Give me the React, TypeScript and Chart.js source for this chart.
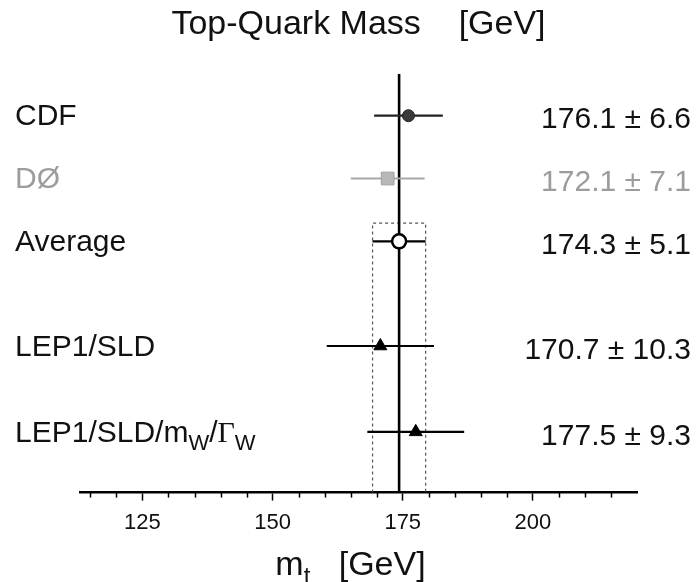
import React, { useEffect, useRef } from 'react';
import { Chart, registerables } from 'chart.js';

Chart.register(...registerables);

// ---------- data ----------
const labels = ['CDF', 'DØ', 'Average', 'LEP1/SLD', 'LEP1/SLD/m_W/Γ_W'];
const values = [176.1, 172.1, 174.3, 170.7, 177.5];
const errors = [6.6, 7.1, 5.1, 10.3, 9.3];
const majorTicks = [125, 150, 175, 200];
const minorTicks = [115, 120, 130, 135, 140, 145, 155, 160, 165, 170, 180, 185, 190, 195, 205, 210, 215];
const chartTitle = 'Top-Quark Mass    [GeV]';
const axisTitle = 'm_t   [GeV]';

// ---------- layout / style ----------
const rows = [0.6, 1.5, 2.4, 3.9, 5.13];
const bandTop = 2.14;
const AVG = 2;
const barColors = ['#222', '#a8a8a8', '#000', '#000', '#000'];
const textColors = ['#111', '#9c9c9c', '#111', '#111', '#111'];
const pointStyles = ['circle', 'rect', 'circle', 'triangle', 'triangle'];
const pointRadii = [6, 9, 7, 7.5, 7.5];
const pointFills = ['#3a3a3a', '#b8b8b8', '#ffffff', '#000', '#000'];
const pointBorders = ['#222', '#a0a0a0', '#000', '#000', '#000'];
const pointBorderWidths = [1, 1, 2.5, 1, 1];
const FONT = '"Liberation Sans", Arial, Helvetica, sans-serif';
const SERIF = '"Liberation Serif", "Times New Roman", serif';

type Seg = { t: string; sub: boolean };
function parseRich(s: string): Seg[] {
  const out: Seg[] = [];
  let buf = '';
  for (let i = 0; i < s.length; i++) {
    if (s[i] === '_' && i + 1 < s.length) {
      if (buf) out.push({ t: buf, sub: false });
      buf = '';
      out.push({ t: s[i + 1], sub: true });
      i++;
    } else buf += s[i];
  }
  if (buf) out.push({ t: buf, sub: false });
  return out;
}

function drawRich(ctx: CanvasRenderingContext2D, text: string, x: number, yMid: number, size: number, align: 'left' | 'right' | 'center', color: string) {
  const segs = parseRich(text);
  const subSize = Math.round(size * 0.72);
  const pieces: { t: string; font: string; dy: number }[] = [];
  segs.forEach((sg) => {
    const sz = sg.sub ? subSize : size;
    const dy = sg.sub ? size * 0.27 : 0;
    let cur = '';
    for (const ch of sg.t) {
      if (ch === 'Γ') {
        if (cur) pieces.push({ t: cur, font: `${sz}px ${FONT}`, dy });
        cur = '';
        pieces.push({ t: ch, font: `${sz}px ${SERIF}`, dy });
      } else cur += ch;
    }
    if (cur) pieces.push({ t: cur, font: `${sz}px ${FONT}`, dy });
  });
  let total = 0;
  const widths = pieces.map((p) => {
    ctx.font = p.font;
    const w = ctx.measureText(p.t).width;
    total += w;
    return w;
  });
  let cx = align === 'left' ? x : align === 'right' ? x - total : x - total / 2;
  const base = yMid + size * 0.358;
  ctx.fillStyle = color;
  ctx.textBaseline = 'alphabetic';
  ctx.textAlign = 'left';
  pieces.forEach((p, i) => {
    ctx.font = p.font;
    ctx.fillText(p.t, cx, base + p.dy);
    cx += widths[i];
  });
}

const decorPlugin = {
  id: 'decor',
  afterDraw(chart: any) {
    const ctx: CanvasRenderingContext2D = chart.ctx;
    const xs = chart.scales.x;
    const ys = chart.scales.y;
    const area = chart.chartArea;
    ctx.save();
    ctx.strokeStyle = '#000';
    ctx.lineWidth = 1.5;
    minorTicks.forEach((v) => {
      const px = Math.round(xs.getPixelForValue(v)) + 0.5;
      ctx.beginPath();
      ctx.moveTo(px, area.bottom);
      ctx.lineTo(px, area.bottom + 5);
      ctx.stroke();
    });
    labels.forEach((lab, i) => {
      const py = ys.getPixelForValue(rows[i]);
      drawRich(ctx, lab, 15, py - 1, 30, 'left', textColors[i]);
      const txt = `${values[i].toFixed(1)} ± ${errors[i].toFixed(1)}`;
      drawRich(ctx, txt, 691, py + 2, 30, 'right', textColors[i]);
    });
    drawRich(ctx, axisTitle, (area.left + area.right) / 2 - 8, 563, 34, 'center', '#111');
    ctx.restore();
  },
};

export default function App() {
  const ref = useRef<HTMLCanvasElement | null>(null);
  useEffect(() => {
    if (!ref.current) return;
    const lo = values[AVG] - errors[AVG];
    const hi = values[AVG] + errors[AVG];
    const errorSets = values.map((v, i) => ({
      data: [
        { x: v - errors[i], y: rows[i] },
        { x: v + errors[i], y: rows[i] },
      ],
      showLine: true,
      borderColor: barColors[i],
      borderWidth: 2.2,
      pointRadius: 0,
      order: 2,
    }));
    const chart = new Chart(ref.current, {
      type: 'scatter',
      data: {
        datasets: [
          {
            data: [
              { x: lo, y: 6 },
              { x: lo, y: bandTop },
              { x: hi, y: bandTop },
              { x: hi, y: 6 },
            ],
            showLine: true,
            borderColor: '#555',
            borderWidth: 1.2,
            borderDash: [3, 3],
            pointRadius: 0,
            order: 4,
          } as any,
          {
            data: [
              { x: values[AVG], y: 0 },
              { x: values[AVG], y: 6 },
            ],
            showLine: true,
            borderColor: '#000',
            borderWidth: 2.6,
            pointRadius: 0,
            order: 3,
          },
          ...errorSets,
          {
            data: values.map((v, i) => ({ x: v, y: rows[i] })),
            showLine: false,
            pointStyle: pointStyles as any,
            pointRadius: pointRadii,
            backgroundColor: pointFills,
            borderColor: pointBorders,
            borderWidth: pointBorderWidths,
            order: 0,
          } as any,
        ],
      },
      options: {
        responsive: false,
        devicePixelRatio: 1,
        animation: false,
        layout: { padding: { left: 80, right: 59, top: 0, bottom: 37 } },
        plugins: {
          legend: { display: false },
          tooltip: { enabled: false },
          title: {
            display: true,
            text: chartTitle,
            color: '#111',
            font: { size: 34, family: FONT, weight: 'normal' },
            padding: { top: 4, bottom: 29 },
          },
        },
        scales: {
          x: {
            type: 'linear',
            position: 'bottom',
            min: 113,
            max: 220,
            afterBuildTicks: (s: any) => {
              s.ticks = majorTicks.map((v) => ({ value: v }));
            },
            ticks: {
              includeBounds: false,
              autoSkip: false,
              maxRotation: 0,
              padding: 9,
              color: '#111',
              font: { size: 22, family: FONT },
            },
            grid: {
              drawOnChartArea: false,
              drawTicks: true,
              tickLength: 8,
              tickWidth: 1.5,
              tickColor: '#000',
            },
            border: { display: true, color: '#000', width: 2.5 },
          },
          y: {
            type: 'linear',
            min: 0,
            max: 6,
            reverse: true,
            display: false,
          },
        },
      } as any,
      plugins: [decorPlugin],
    });
    return () => chart.destroy();
  }, []);
  return (
    <div style={{ position: 'absolute', left: 0, top: 0, width: 696, height: 582, background: '#fff' }}>
      <canvas ref={ref} width={696} height={582} style={{ display: 'block' }} />
    </div>
  );
}
